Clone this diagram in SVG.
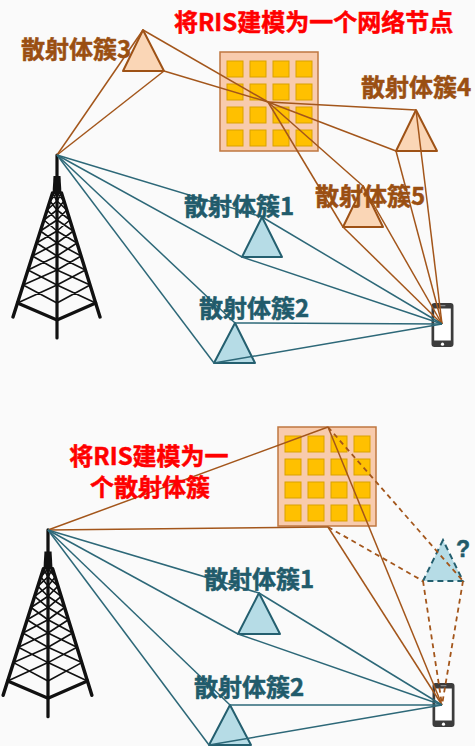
<svg xmlns="http://www.w3.org/2000/svg" width="475" height="746" viewBox="0 0 475 746">
  <style>
    .lbl { font-family: "Noto Sans CJK SC", "Noto Sans", sans-serif; font-weight: bold; font-size: 24px; stroke-width: 0.5; stroke-linejoin: round; }
    .red { fill: #FF0000; stroke: #FF0000; }
    .brn { fill: #9A4F12; stroke: #9A4F12; }
    .tl { fill: #215B6B; stroke: #215B6B; }
    .b { stroke: #A3561B; stroke-width: 1.5; fill: none; }
    .bd { stroke: #A3561B; stroke-width: 1.8; fill: none; stroke-dasharray: 5 4; }
    .t { stroke: #2D6878; stroke-width: 1.5; fill: none; }
    .tri-b { fill: #FAD6B6; stroke: #9E5216; stroke-width: 2; stroke-linejoin: round; }
    .tri-t { fill: #B6DCE6; stroke: #245F6F; stroke-width: 2; stroke-linejoin: round; }
    .tri-q { fill: #B6DCE6; stroke: #245F6F; stroke-width: 2; stroke-dasharray: 6 4; }
    .ris { fill: #F8CBAD; stroke: #BF7740; stroke-width: 1.5; }
    .cell { fill: #FFC000; stroke: #D9A200; stroke-width: 1; }
  </style>
  <defs>
    <!-- lattice tower, apex at (57,155) -->
    <g id="tower-shape" stroke="#111" fill="none" stroke-linecap="round">
      <line x1="57" y1="155" x2="57" y2="338" stroke-width="3.2"/>
      <polygon points="53.5,176 60.5,176 61.5,194 52.5,194" fill="#111" stroke="none"/>
      <path d="M52.5,193 L13,317 M61.5,193 L100,317" stroke-width="3.4"/>
      <path d="M17.5,303 L57,320 L95.7,303" stroke-width="3.2"/>
      <path stroke-width="1.6" d="M52.5,193 L57,201 M57,193 L49.95,201 M49.95,201 L57,210 M57,201 L47.08,210 M47.08,210 L57,220 M57,210 L43.9,220 M43.9,220 L57,231 M57,220 L40.4,231 M40.4,231 L57,243 M57,231 L36.6,243 M36.6,243 L57,256 M57,243 L32.4,256 M32.4,256 L57,270 M57,256 L28,270 M28,270 L57,285 M57,270 L23.2,285 M23.2,285 L57,303 M57,285 L17.5,303"/>
      <path stroke-width="1.6" d="M61.5,193 L57,201 M57,193 L64,201 M64,201 L57,210 M57,201 L66.8,210 M66.8,210 L57,220 M57,210 L69.9,220 M69.9,220 L57,231 M57,220 L73.3,231 M73.3,231 L57,243 M57,231 L77,243 M77,243 L57,256 M57,243 L81.1,256 M81.1,256 L57,270 M57,256 L85.4,270 M85.4,270 L57,285 M57,270 L90.1,285 M90.1,285 L57,303 M57,285 L95.7,303"/>
    </g>
    <!-- handset, centred on origin -->
    <g id="phone-shape">
      <rect x="-11" y="-22" width="22" height="44" rx="3" fill="#3C3C3C"/>
      <rect x="-8.3" y="-16.5" width="16.6" height="32" fill="#FFFFFF"/>
      <rect x="-3" y="-20" width="6" height="1.3" rx="0.6" fill="#8A8A8A"/>
      <circle cx="0" cy="19.2" r="1.6" fill="#FFFFFF"/>
    </g>
    <!-- RIS panel: 4x4 unit cells -->
    <g id="ris-shape">
      <rect x="0" y="0" width="98" height="99" class="ris"/>
      <g class="cell">
        <rect x="7" y="9" width="16" height="16"/><rect x="30" y="9" width="16" height="16"/><rect x="53" y="9" width="16" height="16"/><rect x="76" y="9" width="16" height="16"/>
        <rect x="7" y="32" width="16" height="16"/><rect x="30" y="32" width="16" height="16"/><rect x="53" y="32" width="16" height="16"/><rect x="76" y="32" width="16" height="16"/>
        <rect x="7" y="55" width="16" height="16"/><rect x="30" y="55" width="16" height="16"/><rect x="53" y="55" width="16" height="16"/><rect x="76" y="55" width="16" height="16"/>
        <rect x="7" y="78" width="16" height="16"/><rect x="30" y="78" width="16" height="16"/><rect x="53" y="78" width="16" height="16"/><rect x="76" y="78" width="16" height="16"/>
      </g>
    </g>
  </defs>

  <rect x="0" y="0" width="475" height="746" fill="#FAFAFA"/>

  <!-- ===== upper scenario: RIS as a network node ===== -->
  <g id="bs-top"><use href="#tower-shape"/></g>
  <g id="ris-top"><use href="#ris-shape" transform="translate(220,52)"/></g>
  <g id="cluster3-top"><polygon class="tri-b" points="143,30 123,71 164,71"/></g>
  <g id="cluster4-top"><polygon class="tri-b" points="416,110 396,151 437,151"/></g>
  <g id="cluster5-top"><polygon class="tri-b" points="363,186 343,227 383,227"/></g>
  <g id="cluster1-top"><polygon class="tri-t" points="262,217 242,257 282,257"/></g>
  <g id="cluster2-top"><polygon class="tri-t" points="235,323 214,363 255,363"/></g>
  <g id="ue-top"><use href="#phone-shape" transform="translate(442.5,325)"/></g>

  <!-- ===== lower scenario: RIS as a scatterer cluster ===== -->
  <g id="bs-bottom"><use href="#tower-shape" transform="translate(48,530) scale(1.02) translate(-57,-155)"/></g>
  <g id="ris-bottom"><use href="#ris-shape" transform="translate(278,427)"/></g>
  <g id="cluster-unknown"><polygon class="tri-q" points="443,540 423,581 463,581"/></g>
  <g id="cluster1-bottom"><polygon class="tri-t" points="259,593 238,634 280,634"/></g>
  <g id="cluster2-bottom"><polygon class="tri-t" points="230,705 209,745 251,745"/></g>
  <g id="ue-bottom"><use href="#phone-shape" transform="translate(443.5,705)"/></g>

  <g id="connectors">
    <!-- upper: RIS / orange clusters -->
    <g class="b">
      <line x1="57" y1="155" x2="143" y2="30"/>
      <line x1="57" y1="155" x2="164" y2="71"/>
      <line x1="143" y1="30" x2="268" y2="102"/>
      <line x1="164" y1="71" x2="268" y2="102"/>
      <line x1="268" y1="102" x2="416" y2="110"/>
      <line x1="268" y1="102" x2="396" y2="151"/>
      <line x1="268" y1="102" x2="363" y2="186"/>
      <line x1="268" y1="102" x2="343" y2="227"/>
      <line x1="416" y1="110" x2="442" y2="324"/>
      <line x1="396" y1="151" x2="442" y2="324"/>
      <line x1="363" y1="186" x2="442" y2="324"/>
      <line x1="343" y1="227" x2="442" y2="324"/>
    </g>
    <!-- upper: blue clusters -->
    <g class="t">
      <line x1="57" y1="155" x2="262" y2="217"/>
      <line x1="57" y1="155" x2="242" y2="257"/>
      <line x1="57" y1="155" x2="235" y2="323"/>
      <line x1="57" y1="155" x2="214" y2="363"/>
      <line x1="262" y1="217" x2="442" y2="324"/>
      <line x1="242" y1="257" x2="442" y2="324"/>
      <line x1="235" y1="323" x2="442" y2="324"/>
      <line x1="214" y1="363" x2="442" y2="324"/>
    </g>
    <!-- lower: RIS paths -->
    <g class="b">
      <line x1="48" y1="530" x2="328" y2="427"/>
      <line x1="48" y1="530" x2="328" y2="527"/>
      <line x1="328" y1="427" x2="442" y2="705"/>
      <line x1="328" y1="527" x2="442" y2="705"/>
    </g>
    <g class="bd">
      <line x1="328" y1="427" x2="463" y2="581"/>
      <line x1="328" y1="527" x2="423" y2="581"/>
      <line x1="423" y1="581" x2="442" y2="705"/>
      <line x1="463" y1="581" x2="442" y2="705"/>
    </g>
    <!-- lower: blue clusters -->
    <g class="t">
      <line x1="48" y1="530" x2="259" y2="593"/>
      <line x1="48" y1="530" x2="238" y2="634"/>
      <line x1="48" y1="530" x2="230" y2="705"/>
      <line x1="48" y1="530" x2="209" y2="745"/>
      <line x1="259" y1="593" x2="442" y2="705"/>
      <line x1="238" y1="634" x2="442" y2="705"/>
      <line x1="230" y1="705" x2="442" y2="705"/>
      <line x1="209" y1="745" x2="442" y2="705"/>
    </g>
  </g>

  <g id="labels" class="lbl">
    <text x="174" y="31" class="red">将RIS建模为一个网络节点</text>
    <text x="21" y="58" class="brn">散射体簇3</text>
    <text x="361" y="96" class="brn">散射体簇4</text>
    <text x="315" y="205" class="brn">散射体簇5</text>
    <text x="184" y="215" class="tl">散射体簇1</text>
    <text x="199" y="317" class="tl">散射体簇2</text>
    <text class="red" text-anchor="middle"><tspan x="149" y="465">将RIS建模为一</tspan><tspan x="150" y="496">个散射体簇</tspan></text>
    <text x="204" y="588" class="tl">散射体簇1</text>
    <text x="194" y="696" class="tl">散射体簇2</text>
    <text x="456" y="557" class="tl" style="font-family:'Liberation Sans', Arial, sans-serif; font-size:23px">?</text>
  </g>
</svg>
